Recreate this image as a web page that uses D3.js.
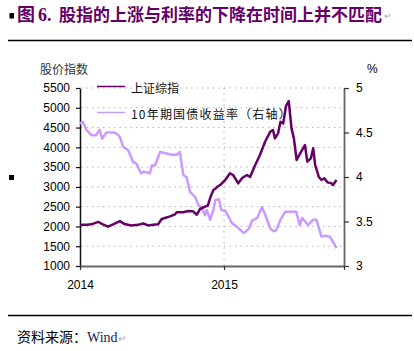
<!DOCTYPE html>
<html lang="zh">
<head>
    <meta charset="UTF-8">
    <title>股指与利率</title>
    <script src="https://d3js.org/d3.v7.min.js"></script>
    <style>
        body {margin: 0; background: #fff;}
        svg {display: block;}
        text {font-family: "Liberation Sans", Arial, sans-serif; font-size: 12px;}
        .cjk {font-family: "Noto Sans CJK SC", sans-serif;}
        .title {font-size: 18px; font-weight: bold; fill: #660066;}
    </style>
</head>
<body>
<script>
    const width = 414;
    const height = 351;

    // 上证综指
    const shDates = ["2014-01-01","2014-01-08","2014-01-18","2014-01-30","2014-02-16","2014-02-28","2014-03-13",
        "2014-03-26","2014-04-12","2014-04-24","2014-05-11","2014-05-28","2014-06-10","2014-06-23","2014-07-05",
        "2014-07-18","2014-07-27","2014-08-04","2014-08-17","2014-08-30","2014-09-03","2014-09-19","2014-10-03",
        "2014-10-14","2014-10-24","2014-11-01","2014-11-14","2014-11-21","2014-11-28","2014-12-05","2014-12-09",
        "2014-12-14","2014-12-22","2015-01-04","2015-01-16","2015-01-24","2015-02-06","2015-02-16","2015-02-28",
        "2015-03-08","2015-03-21","2015-04-02","2015-04-15","2015-04-28","2015-05-05","2015-05-10","2015-05-18",
        "2015-05-24","2015-05-31","2015-06-07","2015-06-14","2015-06-21","2015-06-27","2015-07-04","2015-07-13",
        "2015-07-25","2015-07-31","2015-08-09","2015-08-15","2015-08-20","2015-08-29","2015-09-05","2015-09-12",
        "2015-09-20","2015-09-30","2015-10-04","2015-10-13"];
    const shValues = [2030,2040,2045,2054,2115,2054,1995,
        2054,2135,2060,2025,2040,2075,2025,2040,
        2054,2188,2213,2255,2306,2357,2360,2390,
        2385,2295,2441,2500,2530,2752,2921,2946,
        2997,3047,3174,3343,3300,3090,3224,3300,
        3250,3553,3806,4142,4395,4438,4227,4354,
        4648,4606,5044,5171,4480,4227,3680,3848,
        4059,3637,3722,3975,3553,3257,3174,3216,
        3115,3090,3047,3174];

    // 10年期国债收益率 (%)
    const yieldDates = ["2014-01-01","2014-01-08","2014-01-17","2014-01-30","2014-02-11","2014-02-20","2014-02-26",
        "2014-03-09","2014-03-26","2014-04-03","2014-04-12","2014-04-20","2014-05-03","2014-05-12","2014-05-15",
        "2014-05-24","2014-06-05","2014-06-10","2014-06-22","2014-06-27","2014-07-02","2014-07-10","2014-07-23",
        "2014-08-04","2014-08-21","2014-09-03","2014-09-11","2014-09-20","2014-09-28","2014-10-07","2014-10-19",
        "2014-10-28","2014-11-05","2014-11-14","2014-11-18","2014-11-27","2014-12-05","2014-12-10","2014-12-19",
        "2014-12-25","2015-01-04","2015-01-13","2015-01-21","2015-02-03","2015-02-20","2015-03-05","2015-03-13",
        "2015-03-26","2015-04-07","2015-04-16","2015-04-28","2015-05-07","2015-05-13","2015-05-24","2015-06-05",
        "2015-06-17","2015-07-03","2015-07-12","2015-07-18","2015-08-02","2015-08-15","2015-08-23","2015-09-05",
        "2015-09-13","2015-09-26","2015-10-04","2015-10-13"];
    const yieldValues = [4.60,4.62,4.53,4.47,4.47,4.53,4.43,
        4.50,4.50,4.49,4.45,4.34,4.30,4.21,4.17,
        4.15,4.04,4.06,4.05,4.04,4.13,4.13,4.28,
        4.27,4.25,4.25,4.28,4.02,4.00,3.83,3.78,
        3.69,3.65,3.57,3.63,3.52,3.63,3.74,3.75,
        3.63,3.62,3.55,3.48,3.44,3.37,3.42,3.51,
        3.54,3.66,3.57,3.42,3.39,3.40,3.52,3.61,
        3.61,3.61,3.46,3.54,3.46,3.52,3.52,3.33,
        3.34,3.33,3.27,3.20];

    const leftTicks = [1000,1500,2000,2500,3000,3500,4000,4500,5000,5500];
    const rightTicks = [3,3.5,4,4.5,5];
    const yearTicks = ["2014-01-01","2015-01-01"];

    const parse = d3.timeParse("%Y-%m-%d");
    const sh = shDates.map((d, i) => ({date: parse(d), value: shValues[i]}));
    const yld = yieldDates.map((d, i) => ({date: parse(d), value: yieldValues[i]}));

    const svg = d3.select("body").append("svg")
            .attr("width", width).attr("height", height);

    svg.append("rect").attr("width", width).attr("height", height).attr("fill", "#fff");

    // title
    svg.append("rect").attr("x", 9.5).attr("y", 13).attr("width", 4.5).attr("height", 5.5).attr("fill", "#000");
    svg.append("text").attr("class", "title cjk").attr("x", 17).attr("y", 20.5).text("图");
    svg.append("text").attr("class", "title").attr("x", 38).attr("y", 20.5)
            .style("font-family", "'Liberation Serif', serif").text("6.");
    const titleMain = svg.append("text").attr("class", "title cjk").attr("x", 59).attr("y", 20.5)
            .text("股指的上涨与利率的下降在时间上并不匹配");
    // fit the main title into the width it has in the original
    const natural = titleMain.node().getComputedTextLength();
    if (natural > 323) titleMain.style("font-size", (18 * 323 / natural) + "px");
    const titleEnd = 59 + titleMain.node().getComputedTextLength();
    svg.append("text").attr("x", titleEnd + 2).attr("y", 19)
            .style("fill", "#aaa").style("font-size", "9px").text("↵");

    svg.append("line").attr("x1", 8).attr("x2", 412).attr("y1", 40.5).attr("y2", 40.5)
            .style("stroke", "#000").style("stroke-width", 1.3);
    svg.append("line").attr("x1", 8).attr("x2", 412).attr("y1", 315.5).attr("y2", 315.5)
            .style("stroke", "#000").style("stroke-width", 1.3);

    svg.append("rect").attr("x", 9).attr("y", 175).attr("width", 5).attr("height", 5).attr("fill", "#000");

    const source = svg.append("text").attr("x", 17).attr("y", 342).style("font-size", "14px");
    source.append("tspan").attr("class", "cjk").text("资料来源：");
    source.append("tspan").style("font-family", "'Liberation Serif', serif").style("fill", "#1a1a4a").text("Wind");
    source.append("tspan").style("fill", "#aaa").style("font-size", "10px").text("↵");

    // scales
    const x = d3.scaleTime().domain([parse("2014-01-01"), parse("2015-11-01")]).range([80, 344]);
    const yL = d3.scaleLinear().domain([1000, 5500]).range([266, 88]);
    const yR = d3.scaleLinear().domain([3, 5]).range([266, 88]);

    // grid
    svg.append("g").selectAll("line")
            .data(leftTicks.slice(1))
            .enter().append("line")
            .attr("x1", 81).attr("x2", 343)
            .attr("y1", d => yL(d)).attr("y2", d => yL(d))
            .style("stroke", "#aaa").style("stroke-dasharray", "1.3,4.2");

    svg.append("line")
            .attr("x1", x(parse("2015-01-01"))).attr("x2", x(parse("2015-01-01")))
            .attr("y1", 88).attr("y2", 265)
            .style("stroke", "#aaa").style("stroke-dasharray", "1.3,4.2");

    // axes
    const axisL = svg.append("g").attr("transform", "translate(80,0)")
            .call(d3.axisLeft(yL).tickValues(leftTicks).tickSize(4).tickSizeOuter(0).tickPadding(6)
                    .tickFormat(d3.format("d")));
    const axisR = svg.append("g").attr("transform", "translate(344,0)")
            .call(d3.axisRight(yR).tickValues(rightTicks).tickSize(5).tickSizeOuter(0).tickPadding(7)
                    .tickFormat(d3.format("")));
    const axisB = svg.append("g").attr("transform", "translate(0,266)")
            .call(d3.axisBottom(x).tickValues(yearTicks.map(parse).concat([parse("2015-11-01")]))
                    .tickSize(4).tickSizeOuter(0).tickPadding(10.5)
                    .tickFormat(d => d.getMonth() === 0 ? d3.timeFormat("%Y")(d) : ""));

    [axisL, axisR, axisB].forEach(a => {
        a.selectAll("text").style("font-family", "'Liberation Sans', Arial, sans-serif")
                .style("font-size", "12px").style("fill", "#000");
    });
    axisL.select(".domain").style("stroke", "#111").style("stroke-width", 1.5);
    axisL.selectAll(".tick line").style("stroke", "#111").style("stroke-width", 1.2);
    axisR.select(".domain").style("stroke", "#666").style("stroke-width", 1.8);
    axisR.selectAll(".tick line").style("stroke", "#333").style("stroke-width", 1.2);
    axisB.select(".domain").style("stroke", "#666").style("stroke-width", 1.8);
    axisB.selectAll(".tick line").style("stroke", "#333").style("stroke-width", 1.2);

    // axis titles
    svg.append("text").attr("class", "cjk").attr("x", 40).attr("y", 74)
            .style("fill", "#333").text("股价指数");
    svg.append("text").attr("x", 367).attr("y", 73).style("fill", "#000").text("%");

    // lines
    const lineL = d3.line().x(d => x(d.date)).y(d => yL(d.value));
    const lineR = d3.line().x(d => x(d.date)).y(d => yR(d.value));

    svg.append("path").datum(yld)
            .attr("d", lineR)
            .style("fill", "none").style("stroke", "#cc99ff").style("stroke-width", 2.5)
            .style("stroke-linejoin", "round");

    svg.append("path").datum(sh)
            .attr("d", lineL)
            .style("fill", "none").style("stroke", "#660066").style("stroke-width", 2.5)
            .style("stroke-linejoin", "round");

    // legend
    const legend = [
        {label: "上证综指", color: "#660066", y: 86.5, spacing: 0},
        {label: "10年期国债收益率（右轴）", color: "#cc99ff", y: 112.5, spacing: 1.2}
    ];
    const lg = svg.append("g").selectAll("g").data(legend).enter().append("g");
    lg.append("line").attr("x1", 97).attr("x2", 125)
            .attr("y1", d => d.y).attr("y2", d => d.y)
            .style("stroke", d => d.color).style("stroke-width", 1.5);
    lg.append("text").attr("class", "cjk").attr("x", 131).attr("y", d => d.y + 6.5)
            .style("letter-spacing", d => d.spacing + "px")
            .style("fill", "#111").text(d => d.label);
</script>
</body>
</html>
